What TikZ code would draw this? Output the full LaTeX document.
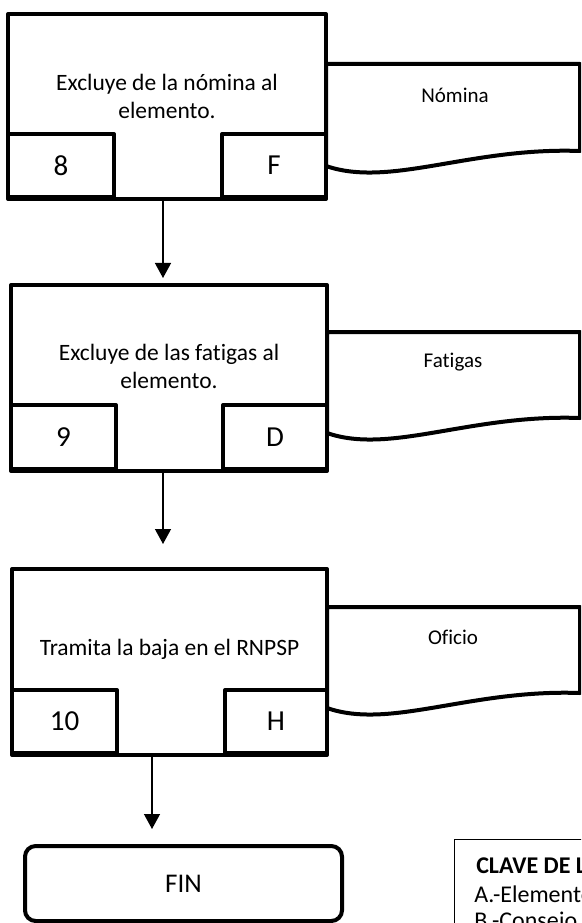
\documentclass[tikz,border=0pt]{standalone}
\usepackage{fontspec}
\setmainfont[Ligatures=NoCommon]{Carlito}
\usetikzlibrary{arrows.meta}
\begin{document}
\begin{tikzpicture}[x=0.75pt,y=-0.75pt,
  procbox/.style={draw, line width=3pt, line join=round, inner sep=0pt},
  subbox/.style={draw, line width=3pt, line join=round, inner sep=0pt, font=\fontsize{21.75}{26}\selectfont},
  proctext/.style={align=center, inner sep=0pt, font=\fontsize{17.6}{21}\selectfont},
  doctext/.style={inner sep=0pt, font=\fontsize{15.75}{19}\selectfont},
  docline/.style={line width=3pt, line join=round},
  arr/.style={line width=1pt, -{Triangle[length=11.25pt,width=12pt]}},
  finbox/.style={draw, line width=3pt, rounded corners=8pt, inner sep=0pt, font=\fontsize{20.25}{24}\selectfont},
  legendbox/.style={draw, line width=0.75pt, inner sep=0pt},
  legendtext/.style={anchor=west, inner sep=0pt, font=\fontsize{18}{21}\selectfont}
]
\useasboundingbox (0,0) rectangle (581,923);
\clip (0,0) rectangle (581,923);

% ---------- Box 1 ----------
\node[procbox, minimum width=318*0.75pt, minimum height=185*0.75pt] (b1) at (167,106.5) {};
\node[proctext] (t1) at (167,96) {Excluye de la nómina al\\elemento.};
\node[subbox, minimum width=106*0.75pt, minimum height=63*0.75pt] (n1) at (61,165.5) {8};
\node[subbox, minimum width=104*0.75pt, minimum height=63*0.75pt] (l1) at (274,165.5) {F};
\draw[docline] (326,64) -- (580,64) -- (580,151) .. controls (470,147) and (390,188) .. (326,166) -- cycle;
\node[doctext] (d1) at (455,95) {Nómina};

% ---------- Box 2 ----------
\node[procbox, minimum width=316*0.75pt, minimum height=186*0.75pt] (b2) at (169,378) {};
\node[proctext] (t2) at (169,366) {Excluye de las fatigas al\\elemento.};
\node[subbox, minimum width=105*0.75pt, minimum height=64*0.75pt] (n2) at (63.5,437) {9};
\node[subbox, minimum width=104*0.75pt, minimum height=64*0.75pt] (l2) at (275,437) {D};
\draw[docline] (327,332) -- (580,332) -- (580,418) .. controls (470,414) and (390,455) .. (327,433) -- cycle;
\node[doctext] (d2) at (453,362) {Fatigas};

% ---------- Box 3 ----------
\node[procbox, minimum width=315*0.75pt, minimum height=186*0.75pt] (b3) at (169.5,662) {};
\node[proctext] (t3) at (169.5,649) {Tramita la baja en el RNPSP};
\node[subbox, minimum width=105*0.75pt, minimum height=63*0.75pt] (n3) at (64.5,721.5) {10};
\node[subbox, minimum width=102*0.75pt, minimum height=63*0.75pt] (l3) at (276,721.5) {H};
\draw[docline] (327,607) -- (580,607) -- (580,693) .. controls (470,689) and (390,730) .. (327,708) -- cycle;
\node[doctext] (d3) at (453,637) {Oficio};

% ---------- FIN ----------
\node[finbox, minimum width=317*0.75pt, minimum height=75*0.75pt] (fin) at (183.5,883.5) {FIN};

% ---------- Arrows ----------
\coordinate (e1) at (163,278);
\coordinate (e2) at (163,544);
\coordinate (e3) at (152,829);
\draw[arr] (b1.south -| e1) -- (e1);
\draw[arr] (b2.south -| e2) -- (e2);
\draw[arr] (b3.south -| e3) -- (e3);

% ---------- Legend ----------
\node[legendbox, minimum width=200*0.75pt, minimum height=140*0.75pt, anchor=north west] (leg) at (454,839) {};
\node[legendtext, font=\fontsize{18}{21}\selectfont\bfseries] (lg0) at (476,866) {CLAVE DE LA};
\node[legendtext] (lg1) at (474,894) {A.-Elemento};
\node[legendtext] (lg2) at (474,922) {B.-Consejo};
\end{tikzpicture}
\end{document}
